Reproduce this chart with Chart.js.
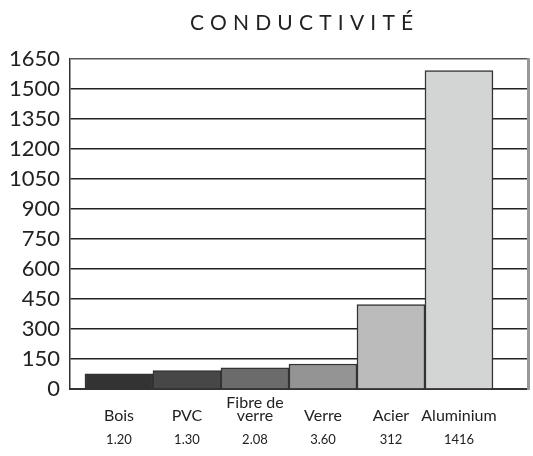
<!DOCTYPE html>
<html>
<head>
<meta charset="utf-8">
<script src="https://cdn.jsdelivr.net/npm/chart.js@4.4.1/dist/chart.umd.min.js"></script>
<style>
  html, body { margin: 0; padding: 0; background: #fff; }
  #wrap { position: relative; width: 533px; height: 456px; }
  #title {
    position: absolute; left: 190px; top: 9px; white-space: nowrap;
    font-family: Lato, sans-serif; font-size: 21px; letter-spacing: 6.2px; color: #222;
  }
  #chart { position: absolute; left: 0; top: 0; }
</style>
</head>
<body>
<div id="wrap">
  <canvas id="chart" width="533" height="456"></canvas>
  <div id="title">CONDUCTIVITÉ</div>
</div>
<script>
// data
const materials = [['Bois'], ['PVC'], ['Fibre de', 'verre'], ['Verre'], ['Acier'], ['Aluminium']];
const conductivity = ['1.20', '1.30', '2.08', '3.60', '312', '1416'];
const barHeights = [76, 92, 106, 125, 422, 1592];
const barColors = ['#333333', '#474747', '#6b6b6b', '#949494', '#bbbbbb', '#d3d5d5'];
const yTicks = [0, 150, 300, 450, 600, 750, 900, 1050, 1200, 1350, 1500, 1650];

function fixedSize(size) {
    return function (scale) {
        if (scale.isHorizontal()) scale.height = size; else scale.width = size;
    };
}
function indexTicks(scale) {
    scale.ticks = materials.map((m, i) => ({ value: i }));
}

const ctx = document.getElementById('chart').getContext('2d');
new Chart(ctx, {
    type: 'bar',
    data: {
        datasets: [{
            data: barHeights.map((v, i) => ({ x: i, y: v })),
            backgroundColor: barColors,
            borderColor: '#333',
            borderWidth: 1.5,
            barPercentage: 1,
            categoryPercentage: 1
        }]
    },
    options: {
        responsive: false,
        animation: false,
        layout: { padding: { top: 59, right: 5, left: 0, bottom: 0 } },
        plugins: { legend: { display: false }, tooltip: { enabled: false } },
        scales: {
            x: {
                type: 'linear',
                offset: false,
                min: -0.72,
                max: 6.015,
                position: 'bottom',
                grid: { display: false, offset: false },
                border: { color: '#333', width: 2 },
                afterBuildTicks: indexTicks,
                afterFit: fixedSize(40),
                ticks: {
                    font: { family: 'Lato, sans-serif', size: 16, lineHeight: 0.8 },
                    color: '#222',
                    maxRotation: 0,
                    autoSkip: false,
                    padding: 6,
                    crossAlign: 'far',
                    callback: (v) => materials[v] || ''
                }
            },
            x2: {
                type: 'linear',
                offset: false,
                min: -0.72,
                max: 6.015,
                position: 'bottom',
                grid: { display: false, drawTicks: false, offset: false },
                border: { display: false },
                afterBuildTicks: indexTicks,
                afterFit: fixedSize(27),
                ticks: {
                    font: { family: 'Lato, sans-serif', size: 13 },
                    color: '#222',
                    maxRotation: 0,
                    autoSkip: false,
                    padding: 3,
                    callback: (v) => conductivity[v] || ''
                }
            },
            y: {
                min: 0,
                max: 1650,
                afterBuildTicks: (scale) => { scale.ticks = yTicks.map(v => ({ value: v })); },
                afterFit: fixedSize(70),
                grid: {
                    color: (c) => c.tick && c.tick.value === 1650 ? '#555' : '#222',
                    lineWidth: 1.5,
                    drawTicks: false
                },
                border: { color: '#333', width: 1.5 },
                ticks: {
                    font: { family: 'Lato, sans-serif', size: 22 },
                    color: '#222',
                    autoSkip: false,
                    padding: 10,
                    callback: (v) => String(v)
                }
            },
            yr: {
                position: 'right',
                min: 0,
                max: 1650,
                grid: { display: false, drawTicks: false },
                border: { color: '#999', width: 3 },
                ticks: { display: false },
                afterFit: fixedSize(0)
            }
        }
    }
});
</script>
</body>
</html>
